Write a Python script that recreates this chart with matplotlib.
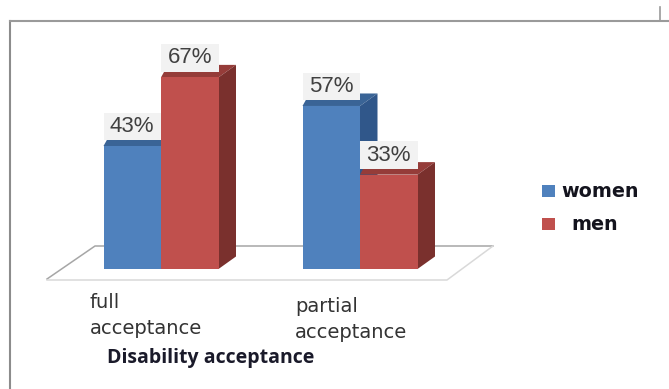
import matplotlib
matplotlib.use('Agg')
import matplotlib.pyplot as plt
from matplotlib.patches import Polygon, Rectangle

categories = [['full', 'acceptance'], ['partial', 'acceptance']]
series_names = ['women', 'men']
women = [43, 57]
men = [67, 33]
axis_title = 'Disability acceptance'

BLUE = ('#4f81bd', '#3a6496', '#30578a')
RED = ('#c0504d', '#953c39', '#7a302d')

# sizes of the fake 3D bars, in pixels
PX_PER_UNIT = 2.86
GROUP_STEP = 199
BAR_PX = 57.5
DEPTH_X = 17.5
DEPTH_Y = 12.5


def draw_bar(ax, x, value, colors):
    """Front face through ax.bar, then the side and top faces behind it."""
    width = BAR_PX / GROUP_STEP
    dx = DEPTH_X / GROUP_STEP
    dy = DEPTH_Y / PX_PER_UNIT
    left, right = x - width / 2, x + width / 2
    top = Polygon([(left, value), (left + dx * 0.4, value + dy), (right + dx, value + dy), (right, value)],
                  facecolor=colors[1], edgecolor='none', zorder=3)
    side = Polygon([(right, 0), (right + dx, dy), (right + dx, value + dy), (right, value)],
                   facecolor=colors[2], edgecolor='none', zorder=3)
    ax.add_patch(top)
    ax.add_patch(side)
    ax.bar(x, value, width=width, color=colors[0], zorder=3)


def draw_label(ax, x, value):
    """Value label on a pale box just above the bar."""
    width = BAR_PX / GROUP_STEP
    ax.add_patch(Rectangle((x - width / 2, value + 2), width, 9.6, facecolor='#f2f2f2',
                           edgecolor='none', zorder=5))
    ax.text(x, value + 6.8, f'{value}%', ha='center', va='center', fontsize=16,
            family='Liberation Sans', color='#404040', zorder=6)


def main():
    fig = plt.figure(figsize=(6.69, 3.89), dpi=100)

    # background layer in pixel coordinates: frame and floor
    bg = fig.add_axes([0, 0, 1, 1])
    bg.set_xlim(0, 669)
    bg.set_ylim(389, 0)
    bg.axis('off')
    bg.plot([10, 10], [21, 389], color='#8c8c8c', lw=1.5)
    bg.plot([10, 669], [21, 21], color='#9a9a9a', lw=1.5)
    bg.plot([660, 660], [7, 21], color='#9a9a9a', lw=1.2)
    bg.plot([47, 95, 493], [279, 246, 246], color='#a6a6a6', lw=1.1)
    bg.plot([493, 447, 47], [246, 280, 280], color='#d9d9d9', lw=1.1)

    # bars share one axes; category 0 sits at x=161px, zero at y=269px
    ax = fig.add_axes([0, 0, 1, 1])
    ax.patch.set_alpha(0)
    ax.set_xlim(-161 / GROUP_STEP, (669 - 161) / GROUP_STEP)
    ax.set_ylim(-(389 - 269) / PX_PER_UNIT, 269 / PX_PER_UNIT)
    ax.axis('off')

    width = BAR_PX / GROUP_STEP
    for i in range(len(categories)):
        draw_bar(ax, i - width / 2, women[i], BLUE)
        draw_bar(ax, i + width / 2, men[i], RED)
    for i in range(len(categories)):
        draw_label(ax, i - width / 2, women[i])
        draw_label(ax, i + width / 2, men[i])

    # category labels
    label_font = dict(fontsize=14, family='DejaVu Sans', color='#333333', va='center', ha='left')
    bg.text(90, 303, categories[0][0], **label_font)
    bg.text(90, 329, categories[0][1], **label_font)
    bg.text(295, 306, categories[1][0], **label_font)
    bg.text(295, 332, categories[1][1], **label_font)
    bg.text(107, 358, axis_title, fontsize=14, family='Open Sans', fontweight='bold',
            color='#1a1a2a', va='center', ha='left')

    # legend
    for y, name, color, text_x in [(191, series_names[0], BLUE[0], 561), (224, series_names[1], RED[0], 571)]:
        bg.add_patch(Rectangle((542, y - 6), 13, 12, facecolor=color, edgecolor='none'))
        bg.text(text_x, y, name, fontsize=13.8, family='DejaVu Sans', fontweight='bold',
                color='#14141e', va='center', ha='left')

    fig.savefig('out.png', dpi=100)


if __name__ == "__main__":
    main()
